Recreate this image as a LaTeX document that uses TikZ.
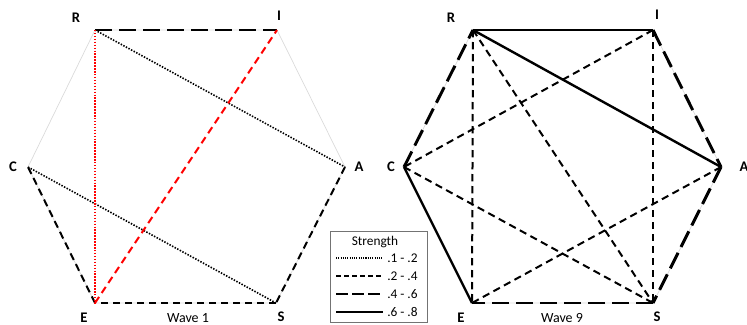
\documentclass[tikz,border=0pt]{standalone}
\usepackage{fontspec}
\setmainfont{Carlito}
\begin{document}
\begin{tikzpicture}[x=0.75pt,y=-0.75pt,
  outline/.style={draw=black!15,line width=0.5pt},
  sA/.style={line width=1.2pt,dash pattern=on 1.1pt off 1.1pt},
  sB/.style={line width=1.5pt,dash pattern=on 5.5pt off 3.5pt},
  sC/.style={line width=2.2pt,dash pattern=on 13pt off 5pt},
  sD/.style={line width=1.8pt},
  lbl/.style={font=\bfseries\fontsize{11}{13}\selectfont,inner sep=0pt},
  wavecap/.style={font=\fontsize{10.5}{12}\selectfont,inner sep=0pt},
  leg/.style={font=\fontsize{10}{12}\selectfont,inner sep=0pt,anchor=west}]
\useasboundingbox (0,0) rectangle (747,325);
% ---------- left: Wave 1
\coordinate (lR) at (95,30);
\coordinate (lI) at (277,30);
\coordinate (lA) at (345,167);
\coordinate (lS) at (276,303);
\coordinate (lE) at (95,303);
\coordinate (lC) at (28,167);
\draw[outline] (lR)--(lI)--(lA)--(lS)--(lE)--(lC)--cycle;
\draw[sC] (lR)--(lI);
\draw[sB] (lA)--(lS);
\draw[sB] (lS)--(lE);
\draw[sB] (lE)--(lC);
\draw[sA] (lR)--(lA);
\draw[sA] (lC)--(lS);
\draw[sA,red] (lR)--(lE);
\draw[sB,red] (lE)--(lI);
\node[lbl] (tlR) at (76,18) {R};
\node[lbl] (tlI) at (279,16) {I};
\node[lbl] (tlA) at (359,167) {A};
\node[lbl] (tlC) at (13,167) {C};
\node[lbl] (tlE) at (84,318) {E};
\node[lbl] (tlS) at (281,317) {S};
\node[wavecap] (w1) at (188,318) {Wave 1};
% ---------- right: Wave 9
\coordinate (rR) at (473,30);
\coordinate (rI) at (653,30);
\coordinate (rA) at (721,167);
\coordinate (rS) at (653,303);
\coordinate (rE) at (472,303);
\coordinate (rC) at (404,167);
\draw[outline] (rR)--(rI)--(rA)--(rS)--(rE)--(rC)--cycle;
\draw[sD] (rR)--(rI);
\draw[sC] (rI)--(rA);
\draw[sC] (rA)--(rS);
\draw[sC] (rS)--(rE);
\draw[sD] (rE)--(rC);
\draw[sC] (rC)--(rR);
\draw[sD] (rR)--(rA);
\draw[sB] (rR)--(rE);
\draw[sB] (rR)--(rS);
\draw[sB] (rI)--(rC);
\draw[sB] (rI)--(rS);
\draw[sB] (rC)--(rS);
\draw[sB] (rA)--(rE);
\node[lbl] (trR) at (451,18) {R};
\node[lbl] (trI) at (657,15) {I};
\node[lbl] (trA) at (744,167) {A};
\node[lbl] (trC) at (391,167) {C};
\node[lbl] (trE) at (461,318) {E};
\node[lbl] (trS) at (657,317) {S};
\node[wavecap] (w9) at (562,318) {Wave 9};
% ---------- legend
\node[draw=black!55,line width=0.6pt,minimum width=97*0.75pt,minimum height=91*0.75pt,inner sep=0pt] (box) at (378.5,276.5) {};
\node[leg,anchor=center] (lt) at (375,242) {Strength};
\coordinate (a1) at (336,258); \coordinate (b1) at (383,258);
\coordinate (a2) at (336,276); \coordinate (b2) at (383,276);
\coordinate (a3) at (336,294); \coordinate (b3) at (383,294);
\coordinate (a4) at (336,312); \coordinate (b4) at (383,312);
\draw[sA,line width=0.8pt,dash pattern=on 0.8pt off 0.9pt] (a1)--(b1);
\draw[sB,dash pattern=on 4pt off 2pt] (a2)--(b2);
\draw[sC,dash pattern=on 9pt off 3pt] (a3)--(b3);
\draw[sD] (a4)--(b4);
\node[leg] (t1) at (387,258) {.1 - .2};
\node[leg] (t2) at (387,276) {.2 - .4};
\node[leg] (t3) at (387,294) {.4 - .6};
\node[leg] (t4) at (387,312) {.6 - .8};
\end{tikzpicture}
\end{document}
